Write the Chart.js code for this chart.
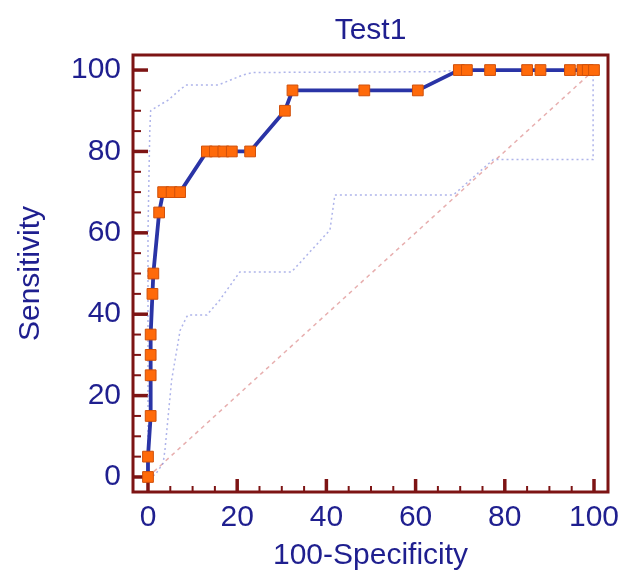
<!DOCTYPE html>
<html>
<head>
<meta charset="utf-8">
<script src="https://cdn.jsdelivr.net/npm/chart.js@4"></script>
<style>
  html, body { margin: 0; padding: 0; background: #fff; }
  #roc { display: block; }
</style>
</head>
<body>
<canvas id="roc" width="622" height="574"></canvas>
<script>
// ROC curve points (100-Specificity, Sensitivity)
const fprValues  = [0, 0, 0.6, 0.6, 0.6, 0.6, 1.0, 1.2, 2.5, 3.4, 5.3, 7.2, 13.2, 15.0, 16.9, 18.8, 22.9, 30.7, 32.4, 48.5, 60.5, 69.7, 71.5, 76.7, 85.0, 88.0, 94.6, 97.4, 98.6, 100];
const sensValues = [0, 5, 15, 25, 30, 35, 45, 50, 65, 70, 70, 70, 80, 80, 80, 80, 80, 90, 95, 95, 95, 100, 100, 100, 100, 100, 100, 100, 100, 100];

// confidence bounds (dotted)
const upperCiX = [0, 0, 0.4, 0.6, 2, 4.5, 7, 8.5, 15.7, 21.3, 23.5, 65, 70, 100];
const upperCiY = [0, 60, 85, 90, 91, 92.6, 95, 96.3, 96.3, 98.8, 99.4, 99.6, 100, 100];
const lowerCiX = [0, 1.6, 3.4, 3.8, 5.3, 7.2, 8.7, 9, 13.2, 16.1, 20.6, 32.2, 40.8, 41.9, 68.4, 69.2, 77.4, 99.8, 99.8];
const lowerCiY = [0, 0.5, 3.4, 6.6, 23.8, 36, 39.4, 39.8, 39.8, 43.5, 50.4, 50.4, 60.7, 69.3, 69.3, 70, 78, 78, 100];

// reference diagonal
const diagX = [0, 100];
const diagY = [0, 100];

const xTicks = [0, 20, 40, 60, 80, 100];
const yTicks = [0, 20, 40, 60, 80, 100];
const minorStep = 5;

const navy = '#1f1f8f';
const frameColor = '#7d1414';
const font = "'Liberation Sans', Arial, sans-serif";

const toPoints = (xs, ys) => xs.map((x, i) => ({ x, y: ys[i] }));

// frame with inward ticks on left and bottom
const framePlugin = {
  id: 'frame',
  beforeDatasetsDraw(chart) {
    const { ctx, chartArea: a, scales: { x, y } } = chart;
    ctx.save();
    ctx.strokeStyle = frameColor;
    ctx.lineCap = 'butt';
    for (let v = 0; v <= 100; v += minorStep) {
      const major = v % 20 === 0;
      ctx.lineWidth = major ? 3.5 : 2;
      const py = y.getPixelForValue(v);
      ctx.beginPath();
      ctx.moveTo(a.left, py);
      ctx.lineTo(a.left + (major ? 15 : 8), py);
      ctx.stroke();
      const px = x.getPixelForValue(v);
      ctx.beginPath();
      ctx.moveTo(px, a.bottom);
      ctx.lineTo(px, a.bottom - (major ? 13 : 6));
      ctx.stroke();
    }
    ctx.lineWidth = 3;
    ctx.strokeRect(a.left, a.top, a.right - a.left, a.bottom - a.top);
    ctx.restore();
  }
};

new Chart(document.getElementById('roc'), {
  type: 'scatter',
  data: {
    datasets: [
      {
        label: 'Test1',
        data: toPoints(fprValues, sensValues),
        showLine: true,
        borderColor: '#2a34a6',
        borderWidth: 3.8,
        pointStyle: 'rect',
        pointRadius: 7.6,
        pointBackgroundColor: '#ff6a0a',
        pointBorderColor: '#d0500a',
        pointBorderWidth: 1,
        tension: 0
      },
      {
        label: 'Upper',
        data: toPoints(upperCiX, upperCiY),
        showLine: true,
        borderColor: 'rgba(120,130,220,0.6)',
        borderWidth: 1.5,
        borderDash: [2, 3],
        pointRadius: 0
      },
      {
        label: 'Lower',
        data: toPoints(lowerCiX, lowerCiY),
        showLine: true,
        borderColor: 'rgba(120,130,220,0.6)',
        borderWidth: 1.5,
        borderDash: [2, 3],
        pointRadius: 0
      },
      {
        label: 'Diagonal',
        data: toPoints(diagX, diagY),
        showLine: true,
        borderColor: 'rgba(215,120,120,0.6)',
        borderWidth: 1.5,
        borderDash: [4, 4],
        pointRadius: 0
      }
    ]
  },
  options: {
    responsive: false,
    animation: false,
    layout: { padding: { left: 0, right: 14, top: 0, bottom: 0 } },
    plugins: {
      legend: { display: false },
      tooltip: { enabled: false },
      title: {
        display: true,
        text: 'Test1',
        fullSize: false,
        color: navy,
        font: { family: font, size: 30, weight: 'normal', lineHeight: 1.2 },
        padding: { top: 13, bottom: 6 }
      }
    },
    scales: {
      x: {
        type: 'linear',
        min: -3.36,
        max: 103.14,
        grid: { display: false },
        border: { display: false },
        afterBuildTicks: axis => { axis.ticks = xTicks.map(v => ({ value: v })); },
        afterFit: axis => { axis.height = 82; axis.paddingLeft = 0; axis.paddingRight = 0; },
        ticks: {
          color: navy,
          padding: 0,
          maxRotation: 0,
          font: { family: font, size: 30 }
        },
        title: {
          display: true,
          text: '100-Specificity',
          color: navy,
          font: { family: font, size: 30 },
          padding: { top: 0, bottom: 0 }
        }
      },
      y: {
        type: 'linear',
        min: -3.69,
        max: 103.7,
        grid: { display: false },
        border: { display: false },
        afterBuildTicks: axis => { axis.ticks = yTicks.map(v => ({ value: v })); },
        afterFit: axis => { axis.width = 133; axis.paddingTop = 0; axis.paddingBottom = 0; },
        ticks: {
          color: navy,
          padding: 4,
          font: { family: font, size: 30 }
        },
        title: {
          display: true,
          text: 'Sensitivity',
          color: navy,
          font: { family: font, size: 30 },
          padding: { top: 13, bottom: 0 }
        }
      }
    }
  },
  plugins: [framePlugin]
});
</script>
</body>
</html>
